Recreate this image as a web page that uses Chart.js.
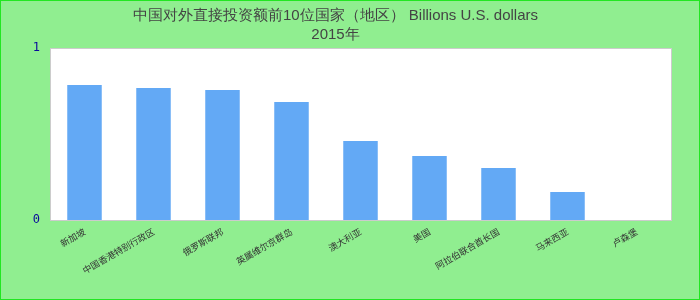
<!DOCTYPE html>
<html>
<head>
<meta charset="utf-8">
<script src="https://cdn.jsdelivr.net/npm/chart.js@4"></script>
<style>
  html, body { margin: 0; padding: 0; background: #90ee90; }
  #wrap { width: 700px; height: 300px; }
</style>
</head>
<body>
<div id="wrap"><canvas id="topTenChart" width="700" height="300"></canvas></div>
<script>
 'use strict';

 // categories (x axis)
 var countries = ['新加坡', '中国香港特别行政区', '俄罗斯联邦', '英属维尔京群岛', '澳大利亚', '美国', '阿拉伯联合酋长国', '马来西亚', '卢森堡'];
 // Billions U.S. dollars, 2015
 var amounts = [0.785, 0.767, 0.756, 0.686, 0.459, 0.372, 0.302, 0.163, 0];
 var yTicks = [0, 1];
 var titleLines = ['中国对外直接投资额前10位国家（地区） Billions U.S. dollars', '2015年'];

 // green page + white plot box
 var backdrop = {
   id: 'backdrop',
   beforeDraw: function (chart) {
     var ctx = chart.ctx, a = chart.chartArea;
     ctx.save();
     ctx.fillStyle = '#90ee90';
     ctx.fillRect(0, 0, chart.width, chart.height);
     ctx.strokeStyle = '#22e622';
     ctx.lineWidth = 2;
     ctx.strokeRect(0, 0, chart.width, chart.height);
     ctx.fillStyle = '#ffffff';
     ctx.fillRect(a.left, a.top, a.right - a.left, a.bottom - a.top);
     ctx.strokeStyle = '#cccccc';
     ctx.lineWidth = 1;
     ctx.strokeRect(a.left + 0.5, a.top + 0.5, a.right - a.left, a.bottom - a.top);
     ctx.restore();
   }
 };

 var ctx = document.getElementById('topTenChart').getContext('2d');
 new Chart(ctx, {
   type: 'bar',
   data: {
     labels: countries,
     datasets: [{
       data: amounts,
       backgroundColor: '#63a9f5',
       borderWidth: 0,
       barPercentage: 0.5,
       categoryPercentage: 1
     }]
   },
   options: {
     responsive: false,
     animation: false,
     layout: { padding: { left: 0, right: 29, top: 0, bottom: 0 } },
     plugins: {
       legend: { display: false },
       tooltip: { enabled: false },
       title: {
         display: true,
         text: titleLines,
         color: '#444444',
         font: { family: '"Liberation Sans", Arial, sans-serif', size: 15, weight: 'normal', lineHeight: 1.3 },
         padding: { top: 6, bottom: 3 }
       }
     },
     scales: {
       x: {
         grid: { display: false, drawTicks: false },
         border: { display: false },
         ticks: {
           color: '#333333',
           font: { family: '"Noto Sans CJK SC", sans-serif', size: 9 },
           minRotation: 30,
           maxRotation: 30,
           padding: 6
         },
         afterFit: function (scale) { scale.height = 80; }
       },
       y: {
         min: 0,
         max: 1,
         grid: { display: false, drawTicks: false },
         border: { display: false },
         afterBuildTicks: function (scale) {
           scale.ticks = yTicks.map(function (v) { return { value: v }; });
         },
         ticks: {
           color: '#0a0a9a',
           font: { family: '"DejaVu Sans Mono", monospace', size: 12 },
           padding: 10
         },
         afterFit: function (scale) { scale.width = 50; }
       }
     }
   },
   plugins: [backdrop]
 });
</script>
</body>
</html>
